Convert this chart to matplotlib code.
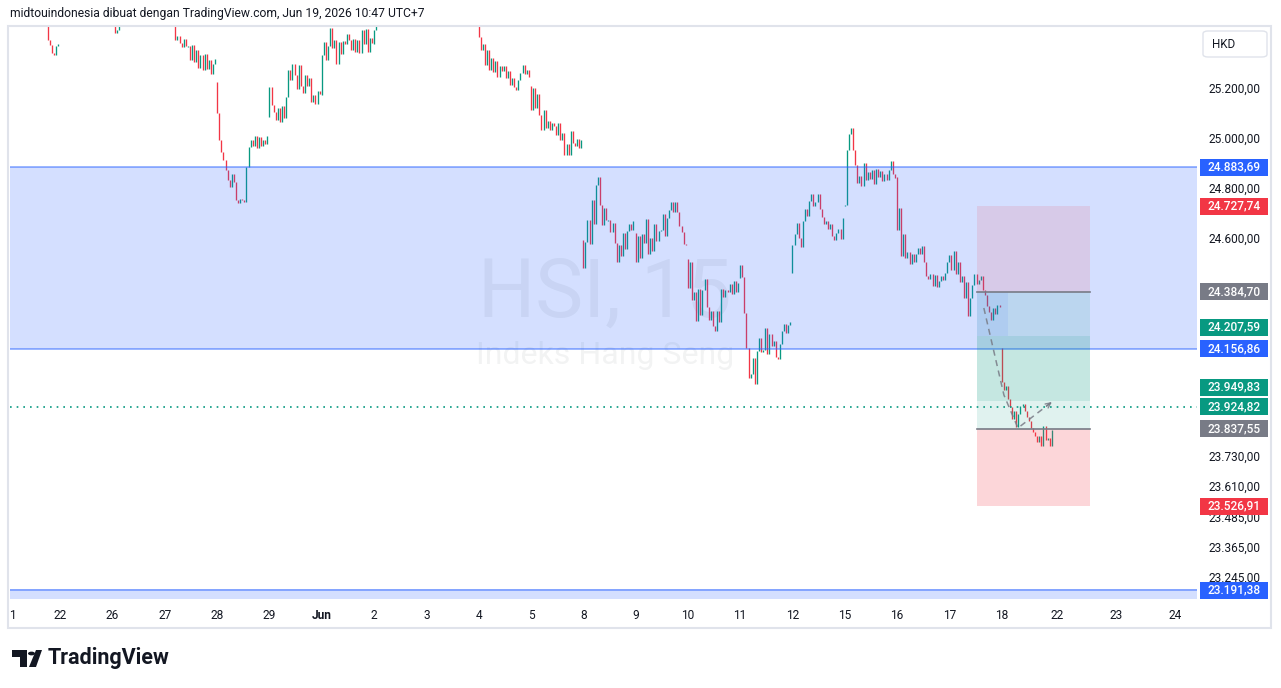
import matplotlib.pyplot as plt
from matplotlib.patches import Rectangle, FancyBboxPatch, Polygon, Circle

plt.rcParams['font.family'] = ['Roboto', 'DejaVu Sans']

# HSI 15m bars, 25 per session; opens follow the previous close except at session start
day_labels = ['1', '22', '26', '27', '28', '29', 'Jun', '2', '3', '4', '5', '8', '9',
              '10', '11', '12', '15', '16', '17', '18']
future_labels = ['22', '23', '24']
day_open = [25600, 25520, 25500, 25510, 25224, 25084, 25172, 25376, 25700, 25560,
            25208, 24592, 24620, 24516, 24440, 24460, 24728, 24844, 24504, 24160]

may21 = [25620, 25600, 25640, 25610, 25580, 25590, 25560, 25570, 25540, 25550, 25520, 25530, 25510,
         25540, 25500, 25520, 25490, 25500, 25470, 25392, 25372, 25340, 25332, 25368, 25376]
may22 = [25530, 25560, 25590, 25610, 25580, 25600, 25620, 25640, 25610, 25590, 25600, 25620, 25650,
         25630, 25600, 25580, 25560, 25570, 25550, 25540, 25560, 25530, 25510, 25500, 25520]
may26 = [25490, 25420, 25432, 25470, 25500, 25530, 25560, 25580, 25600, 25590, 25620, 25640, 25610,
         25600, 25630, 25650, 25620, 25600, 25590, 25570, 25580, 25560, 25540, 25520, 25500]
may27 = [25520, 25500, 25540, 25510, 25480, 25392, 25408, 25380, 25364, 25396, 25368, 25368, 25312,
         25372, 25304, 25352, 25280, 25332, 25272, 25336, 25276, 25312, 25256, 25296, 25316]
may28 = [25100, 24992, 24944, 24912, 24872, 24832, 24804, 24856, 24824, 24752, 24740, 24756, 24752,
         24744, 24884, 24964, 24992, 24968, 25008, 24960, 25004, 24968, 24992, 24976, 25008]
may29 = [25204, 25132, 25104, 25072, 25120, 25064, 25128, 25080, 25164, 25272, 25232, 25296, 25252,
         25196, 25292, 25208, 25180, 25252, 25208, 25240, 25144, 25172, 25136, 25188, 25176]
jun01 = [25332, 25384, 25312, 25368, 25440, 25360, 25392, 25296, 25384, 25336, 25388, 25376, 25416,
         25392, 25352, 25396, 25344, 25392, 25340, 25432, 25376, 25436, 25344, 25400, 25380]
jun02 = [25432, 25460, 25490, 25520, 25550, 25580, 25600, 25620, 25640, 25630, 25660, 25680, 25650,
         25670, 25700, 25690, 25720, 25700, 25740, 25720, 25700, 25730, 25710, 25690, 25700]
jun03 = [25720, 25740, 25760, 25750, 25780, 25770, 25800, 25790, 25760, 25740, 25750, 25730, 25710,
         25720, 25690, 25700, 25680, 25660, 25670, 25650, 25630, 25640, 25610, 25600, 25590]
jun04 = [25404, 25352, 25376, 25292, 25352, 25272, 25320, 25264, 25308, 25244, 25288, 25268, 25288,
         25240, 25268, 25212, 25240, 25204, 25192, 25232, 25260, 25292, 25256, 25272, 25244]
jun05 = [25112, 25200, 25120, 25176, 25092, 25032, 25112, 25040, 25068, 25032, 25060, 25048, 25012,
         25060, 24992, 25020, 24932, 24976, 24932, 25028, 24980, 24968, 24996, 24960, 24992]
jun08 = [24480, 24584, 24672, 24576, 24752, 24656, 24812, 24844, 24732, 24652, 24720, 24672, 24672,
         24624, 24660, 24580, 24504, 24572, 24528, 24620, 24556, 24628, 24656, 24632, 24668]
jun09 = [24504, 24608, 24520, 24616, 24580, 24676, 24536, 24600, 24548, 24656, 24588, 24628, 24632,
         24696, 24608, 24680, 24712, 24744, 24704, 24744, 24704, 24648, 24624, 24576, 24572]
jun10 = [24400, 24504, 24352, 24384, 24268, 24396, 24292, 24392, 24436, 24324, 24272, 24308, 24248,
         24228, 24308, 24264, 24396, 24364, 24392, 24384, 24416, 24376, 24428, 24384, 24420]
jun11 = [24492, 24444, 24300, 24160, 24040, 24056, 24120, 24016, 24148, 24200, 24144, 24152, 24240,
         24136, 24216, 24168, 24188, 24124, 24116, 24176, 24228, 24256, 24220, 24252, 24264]
jun12 = [24572, 24616, 24660, 24600, 24564, 24668, 24716, 24688, 24748, 24776, 24728, 24744, 24776,
         24716, 24684, 24656, 24668, 24636, 24656, 24608, 24592, 24620, 24636, 24596, 24680]
jun15 = [24732, 24952, 25016, 25040, 24952, 24892, 24820, 24848, 24808, 24900, 24832, 24864, 24836,
         24872, 24816, 24876, 24844, 24868, 24828, 24856, 24832, 24872, 24908, 24856, 24840]
jun16 = [24632, 24720, 24528, 24616, 24520, 24544, 24496, 24536, 24504, 24536, 24560, 24536, 24568,
         24504, 24448, 24436, 24456, 24408, 24452, 24404, 24428, 24448, 24432, 24460, 24504]
jun17 = [24532, 24472, 24548, 24456, 24504, 24424, 24448, 24360, 24424, 24288, 24360, 24412, 24456,
         24416, 24432, 24448, 24392, 24372, 24328, 24304, 24272, 24320, 24296, 24332, 24324]
jun18 = [24024, 23992, 24008, 23956, 23924, 23876, 23908, 23844, 23896, 23928, 23936, 23908, 23884,
         23868, 23840, 23824, 23808, 23784, 23808, 23768, 23848, 23792, 23800, 23768, 23832]

sessions = [may21, may22, may26, may27, may28, may29, jun01, jun02, jun03, jun04, jun05,
            jun08, jun09, jun10, jun11, jun12, jun15, jun16, jun17, jun18]

# drawings
zone_top, zone_bottom = 24883.69, 24156.86
low_zone_line = 23191.38
short_entry, short_stop, short_target = 24384.70, 24727.74, 23949.83
long_entry, long_stop, long_target = 23837.55, 23526.91, 24207.59
last_price = 23924.82
path_bars = [466.5, 476.1, 482.8, 499.0]
path_prices = [24320, 23972, 23840, 23944]
y_ticks = [25200, 25000, 24800, 24600, 24400, 23850, 23730, 23610, 23485, 23365, 23245]

UP, DOWN = '#089981', '#f23645'
BLUE, GREY = '#2962ff', '#787b86'
TXT = '#131722'
W, H = 1281, 688


def fmt(v):
    return f'{v:,.2f}'.replace(',', 'X').replace('.', ',').replace('X', '.')


def fx(px):
    return px / W


def fy(py):
    return 1 - py / H


opens, closes = [], []
for d, day in enumerate(sessions):
    prev = day_open[d]
    for c in day:
        opens.append(prev)
        closes.append(c)
        prev = c
xs = list(range(len(closes)))
lo = [min(o, c) for o, c in zip(opens, closes)]
hi = [max(o, c) for o, c in zip(opens, closes)]
lo = [l - 2 if h - l < 4 else l for l, h in zip(lo, hi)]
hi = [h + 2 if h - l < 4 else h for l, h in zip(lo, hi)]
cols = [UP if c >= o else DOWN for o, c in zip(opens, closes)]

fig = plt.figure(figsize=(W / 100, H / 100), dpi=100)
ax = fig.add_axes([fx(10), fy(601), 1187 / W, 575 / H])
ax.set_xlim(0.96, 568.4)
ax.set_ylim(23148, 25448)
for s in ax.spines.values():
    s.set_visible(False)

# watermark
ax.text(0.501, 0.494, 'HSI, 15', transform=ax.transAxes, ha='center', va='baseline',
        fontsize=58, color=TXT, alpha=0.06, zorder=0)
ax.text(0.501, 0.412, 'Indeks Hang Seng', transform=ax.transAxes, ha='center', va='baseline',
        fontsize=23, color=TXT, alpha=0.05, zorder=0)

ax.vlines(xs, lo, hi, colors=cols, lw=0.95, zorder=2)

# zones
ax.axhspan(zone_bottom, zone_top, color=BLUE, alpha=0.2, lw=0, zorder=3)
for v in (zone_bottom, zone_top):
    ax.axhline(v, color=BLUE, alpha=0.55, lw=1.2, zorder=3)
ax.axhspan(low_zone_line - 36, low_zone_line + 5, color=BLUE, alpha=0.2, lw=0, zorder=3)
ax.axhline(low_zone_line, color=BLUE, alpha=0.55, lw=1.2, zorder=3)

# position tools
x0, x1, xt = 463.2, 517.2, 478.0
def box(a, b, color, alpha=0.2, xa=x0, xb=x1):
    ax.add_patch(Rectangle((xa, min(a, b)), xb - xa, abs(b - a), fc=color, alpha=alpha,
                           lw=0, zorder=4))
box(short_entry, short_stop, DOWN, 0.12)
box(short_target, short_entry, UP, 0.12)
box(long_target, short_entry, BLUE, 0.08, x0, xt)
box(long_entry, long_target, UP, 0.12)
box(long_stop, long_entry, DOWN, 0.2)
for v in (short_entry, long_entry):
    ax.plot([x0, x1], [v, v], color=GREY, lw=1.2, zorder=5)

ax.axhline(last_price, color=UP, lw=1.2, ls=(0, (1, 3)), zorder=5)
ax.plot(path_bars, path_prices, color=GREY, lw=1.1, alpha=0.85, dashes=(4, 3), zorder=6)
# open arrow head only, on the last dashed leg
ex, ey = path_bars[-1], path_prices[-1]
sx = ex - 0.15 * (ex - path_bars[-2])
sy = ey - 0.15 * (ey - path_prices[-2])
ax.annotate('', xy=(ex, ey), xytext=(sx, sy),
            arrowprops=dict(arrowstyle='->', color=GREY, lw=1.0, alpha=0.85, mutation_scale=9,
                            shrinkA=0, shrinkB=0), zorder=6)

# price axis
ax.yaxis.tick_right()
ax.set_yticks(y_ticks)
ax.set_yticklabels([fmt(v) for v in y_ticks])
ax.tick_params(axis='y', length=0, pad=8, labelsize=8.6, labelcolor=TXT)

tags = [(24883.69, BLUE), (24727.74, DOWN), (24384.70, GREY), (24207.59, UP), (24156.86, BLUE),
        (23949.83, UP), (23924.82, UP), (23837.55, GREY), (23526.91, DOWN), (23191.38, BLUE)]
nudge = {24207.59: 36, 23949.83: 54}
tr = ax.get_yaxis_transform()
for v, c in tags:
    yv = v + nudge.get(v, 0)
    ax.add_patch(Rectangle((1.0025, yv - 34), 0.0573, 68, transform=tr, fc=c, ec='none',
                           clip_on=False, zorder=10))
    ax.text(1.0312, yv, fmt(v), transform=tr, ha='center', va='center', color='white',
            fontsize=8.6, fontweight='medium', clip_on=False, zorder=11)

# time axis
tick_pos = [1.9] + [25 * d for d in range(1, len(day_labels))] + [501.4, 529.6, 557.8]
ax.set_xticks(tick_pos)
ax.set_xticklabels(day_labels + future_labels)
ax.tick_params(axis='x', length=0, pad=6, labelsize=8.6, labelcolor=TXT)
for t in ax.get_xticklabels():
    if t.get_text() == 'Jun':
        t.set_fontweight('bold')

# frame, header, currency box
fig.add_artist(Rectangle((fx(8), fy(628)), (1271 - 8) / W, 602 / H, transform=fig.transFigure,
                         fc='none', ec='#e0e3eb', lw=1.5))
fig.text(fx(10), fy(13), 'midtouindonesia dibuat dengan TradingView.com, Jun 19, 2026 10:47 UTC+7',
         va='center', ha='left', fontsize=8.7, color=TXT)
fig.add_artist(FancyBboxPatch((fx(1203), fy(57)), 64 / W, 26 / H, transform=fig.transFigure,
                              boxstyle='round,pad=0,rounding_size=0.004', fc='white',
                              ec='#e0e3eb', lw=1))
fig.text(fx(1212), fy(44), 'HKD', va='center', ha='left', fontsize=8.4, color=TXT)

# footer logo
logo = '#131722'
fig.add_artist(Polygon([(fx(12), fy(650)), (fx(27), fy(650)), (fx(27), fy(667)), (fx(20), fy(667)),
                        (fx(20), fy(657)), (fx(12), fy(657))], closed=True,
                       transform=fig.transFigure, fc=logo, ec='none'))
fig.add_artist(Circle((fx(31.5), fy(653.5)), 3.5 / W, transform=fig.transFigure, fc=logo, ec='none'))
fig.add_artist(Polygon([(fx(29), fy(667)), (fx(36), fy(667)), (fx(42), fy(650)), (fx(36), fy(650))],
                       closed=True, transform=fig.transFigure, fc=logo, ec='none'))
fig.text(fx(48), fy(658), 'TradingView', va='center', ha='left', fontsize=15.5, fontweight='bold',
         color=logo)

fig.savefig('out.png', dpi=100, facecolor='white')
